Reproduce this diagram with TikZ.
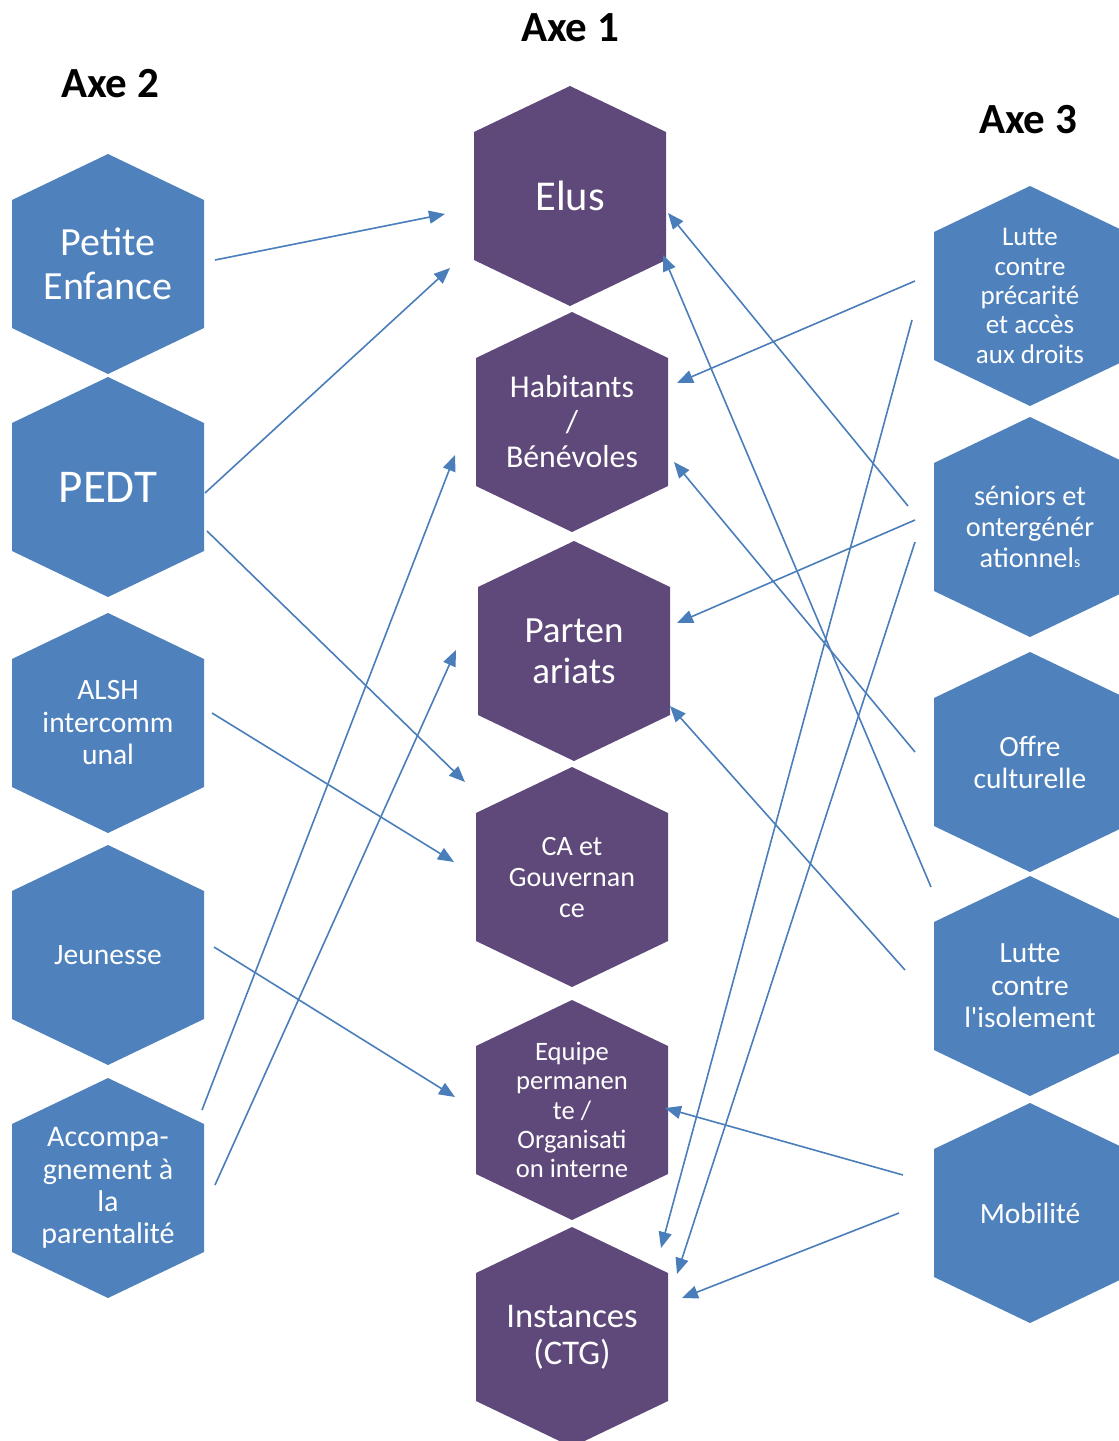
\documentclass[tikz,border=0pt]{standalone}
\usepackage{fontspec}
\setmainfont{Carlito}
\usepackage{tikz}
\usetikzlibrary{arrows.meta, calc, positioning}
\usepackage{xcolor}
\definecolor{bleu}{HTML}{4F81BD}
\definecolor{violet}{HTML}{5F497A}
\definecolor{trait}{HTML}{4A7EBB}

\newcommand{\fs}[2]{\fontsize{#1}{#2}\selectfont}

\begin{document}
\begin{tikzpicture}[x=1pt, y=-1pt,
	txt/.style={text=white, align=center, inner sep=0pt},
	titre/.style={font=\fs{43}{48}\bfseries, inner sep=0pt},
	fleche/.style={draw=trait, line width=1.6pt, -{Triangle[length=16pt, width=13pt]}}]
	\useasboundingbox (0,0) rectangle (1119,1441);
	% hexagones
	\foreach \x/\y/\c in {108/264/bleu, 108/487/bleu, 108/723/bleu, 108/955/bleu, 108/1188/bleu,
		570/196/violet, 572/422/violet, 574/651/violet, 572/877/violet, 572/1110/violet, 572/1337/violet,
		1030/296/bleu, 1030/527/bleu, 1030/762/bleu, 1030/986/bleu, 1030/1213/bleu}
		\fill[\c] (\x,\y) +(0,-110) -- +(96,-64) -- +(96,64) -- +(0,110) -- +(-96,64) -- +(-96,-64) -- cycle;
	
	\node[titre] (axe1) at (570,28) {Axe 1};
	\node[titre] (axe2) at (110,84) {Axe 2};
	\node[titre] (axe3) at (1028,120) {Axe 3};
	
	% axe 2
	\node[txt, font=\fs{40}{44}] (petite) at (108,264) {Petite\\Enfance};
	\node[txt, font=\fs{47}{52}] (pedt) at (108,487) {PEDT};
	\node[txt, font=\fs{29.5}{32.5}] (alsh) at (108,723) {ALSH\\intercomm\\unal};
	\node[txt, font=\fs{29.5}{31}] (jeun) at (108,955) {Jeunesse};
	\node[txt, font=\fs{30}{32.3}] (accomp) at (108,1188) {Accompa-\\gnement à\\la\\parentalité};
	
	% axe 1
	\node[txt, font=\fs{42.5}{46}] (elus) at (570,196) {Elus};
	\node[txt, font=\fs{31.8}{35}] (habit) at (572,422) {Habitants\\/\\Bénévoles};
	\node[txt, font=\fs{37}{41}] (parten) at (574,651) {Parten\\ariats};
	\node[txt, font=\fs{28}{31}] (ca) at (572,877) {CA et\\Gouvernan\\ce};
	\node[txt, font=\fs{26.6}{29.3}] (equipe) at (572,1110) {Equipe\\permanen\\te /\\Organisati\\on interne};
	\node[txt, font=\fs{34.6}{37}] (inst) at (572,1337) {Instances\\(CTG)};
	
	% axe 3
	\node[txt, font=\fs{27}{29.3}] (precar) at (1030,296) {Lutte\\contre\\précarité\\et accès\\aux droits};
	\node[txt, font=\fs{28.3}{31}] (seniors) at (1030,527) {séniors et\\ontergénér\\ationnel{\fs{16}{16}s}};
	\node[txt, font=\fs{29.4}{32}] (offre) at (1030,762) {Offre\\culturelle};
	\node[txt, font=\fs{29.4}{32.5}] (isol) at (1030,986) {Lutte\\contre\\l\textquotesingle isolement};
	\node[txt, font=\fs{29.4}{32}] (mobil) at (1030,1213) {Mobilité};
	
	% bouts des fleches
	\coordinate (petite-1) at (215,260);   \coordinate (elus-1) at (445,214);
	\coordinate (pedt-1) at (205,493);     \coordinate (elus-2) at (450,268);
	\coordinate (pedt-2) at (207,531);     \coordinate (ca-1) at (465,782);
	\coordinate (alsh-1) at (212,713);     \coordinate (ca-2) at (454,862);
	\coordinate (jeun-1) at (214,947);     \coordinate (equipe-1) at (455,1097);
	\coordinate (accomp-1) at (202,1110);  \coordinate (habit-1) at (455,455);
	\coordinate (accomp-2) at (215,1185);  \coordinate (parten-1) at (456,650);
	\coordinate (precar-1) at (915,281);   \coordinate (habit-2) at (677,383);
	\coordinate (precar-2) at (912,320);   \coordinate (inst-1) at (661,1248);
	\coordinate (seniors-1) at (908,506);  \coordinate (elus-3) at (668,213);
	\coordinate (seniors-2) at (915,520);  \coordinate (parten-2) at (677,623);
	\coordinate (seniors-3) at (915,542);  \coordinate (inst-2) at (677,1274);
	\coordinate (offre-1) at (915,752);    \coordinate (habit-3) at (674,462);
	\coordinate (isol-1) at (931,887);     \coordinate (elus-4) at (663,255);
	\coordinate (isol-2) at (905,970);     \coordinate (parten-3) at (670,706);
	\coordinate (mobil-1) at (903,1175);   \coordinate (equipe-2) at (665,1108);
	\coordinate (mobil-2) at (899,1213);   \coordinate (inst-3) at (682,1298);
	
	\foreach \a/\b in {petite-1/elus-1, pedt-1/elus-2, pedt-2/ca-1, alsh-1/ca-2,
		jeun-1/equipe-1, accomp-1/habit-1, accomp-2/parten-1,
		precar-1/habit-2, precar-2/inst-1, seniors-1/elus-3, seniors-2/parten-2,
		seniors-3/inst-2, offre-1/habit-3, isol-1/elus-4, isol-2/parten-3,
		mobil-1/equipe-2, mobil-2/inst-3}
		\draw[fleche] (\a) -- (\b);
\end{tikzpicture}
\end{document}
